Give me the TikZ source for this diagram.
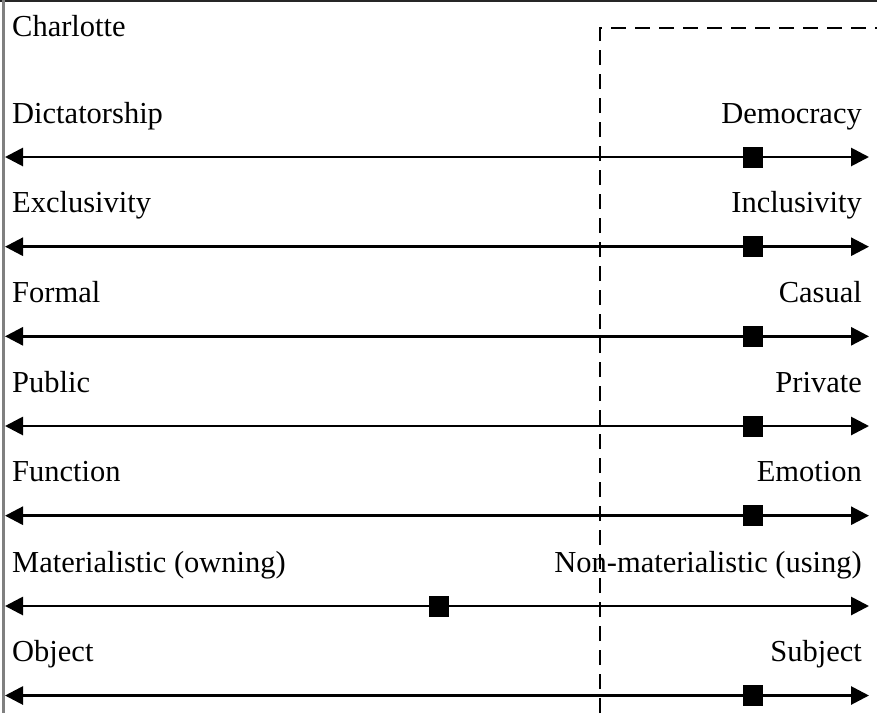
\documentclass[tikz,border=0pt]{standalone}
\usepackage{fontspec}
\setmainfont{Liberation Serif}
\usetikzlibrary{arrows.meta, positioning}

\begin{document}
\begin{tikzpicture}[
    x=1pt, y=-1pt,
    lbl/.style={inner sep=0pt, font=\fontsize{30.5}{36}\selectfont},
    leftlbl/.style={lbl, anchor=base west},
    rightlbl/.style={lbl, anchor=base east},
    marker/.style={rectangle, fill=black, inner sep=0pt, minimum width=20pt, minimum height=21pt},
    axisline/.style={{Triangle[length=18pt,width=18pt]}-{Triangle[length=18pt,width=18pt]}, line width=2.8pt},
    frame/.style={line width=2.2pt}
]
\useasboundingbox (0,0) rectangle (877,713);

% frame of the panel
\draw[frame, black!85] (0,1) -- (877,1);
\draw[frame, black!50] (3.5,0) -- (3.5,713);

\node[leftlbl] (name) at (12,36) {Charlotte};

% Dictatorship - Democracy
\coordinate (dictL) at (5,157);
\coordinate (dictR) at (869,157);
\node[leftlbl] (dict) at (12,123) {Dictatorship};
\node[rightlbl] (demo) at (862,123) {Democracy};
\draw[axisline] (dictL) -- (dictR);
\node[marker] (m1) at (753,157) {};

% Exclusivity - Inclusivity
\coordinate (exclL) at (5,246.7);
\coordinate (exclR) at (869,246.7);
\node[leftlbl] (excl) at (12,212.7) {Exclusivity};
\node[rightlbl] (incl) at (862,212.7) {Inclusivity};
\draw[axisline] (exclL) -- (exclR);
\node[marker] (m2) at (753,246.7) {};

% Formal - Casual
\coordinate (formL) at (5,336.3);
\coordinate (formR) at (869,336.3);
\node[leftlbl] (form) at (12,302.3) {Formal};
\node[rightlbl] (casu) at (862,302.3) {Casual};
\draw[axisline] (formL) -- (formR);
\node[marker] (m3) at (753,336.3) {};

% Public - Private
\coordinate (publL) at (5,426);
\coordinate (publR) at (869,426);
\node[leftlbl] (publ) at (12,392) {Public};
\node[rightlbl] (priv) at (862,392) {Private};
\draw[axisline] (publL) -- (publR);
\node[marker] (m4) at (753,426) {};

% Function - Emotion
\coordinate (funcL) at (5,515.7);
\coordinate (funcR) at (869,515.7);
\node[leftlbl] (func) at (12,481.7) {Function};
\node[rightlbl] (emot) at (862,481.7) {Emotion};
\draw[axisline] (funcL) -- (funcR);
\node[marker] (m5) at (753,515.7) {};

% Materialistic - Non-materialistic
\coordinate (mateL) at (5,606);
\coordinate (mateR) at (869,606);
\node[leftlbl] (mate) at (12,572) {Materialistic (owning)};
\node[rightlbl] (nonm) at (862,572) {Non-materialistic (using)};
\draw[axisline] (mateL) -- (mateR);
\node[marker] (m6) at (438.5,606) {};

% Object - Subject
\coordinate (objeL) at (5,695.5);
\coordinate (objeR) at (869,695.5);
\node[leftlbl] (obje) at (12,661.5) {Object};
\node[rightlbl] (subj) at (862,661.5) {Subject};
\draw[axisline] (objeL) -- (objeR);
\node[marker] (m7) at (753,695.5) {};

% dashed region
\draw[line width=2.2pt, dash pattern=on 15pt off 9pt] (600,713) -- (600,28) -- (877,28);

\end{tikzpicture}
\end{document}
